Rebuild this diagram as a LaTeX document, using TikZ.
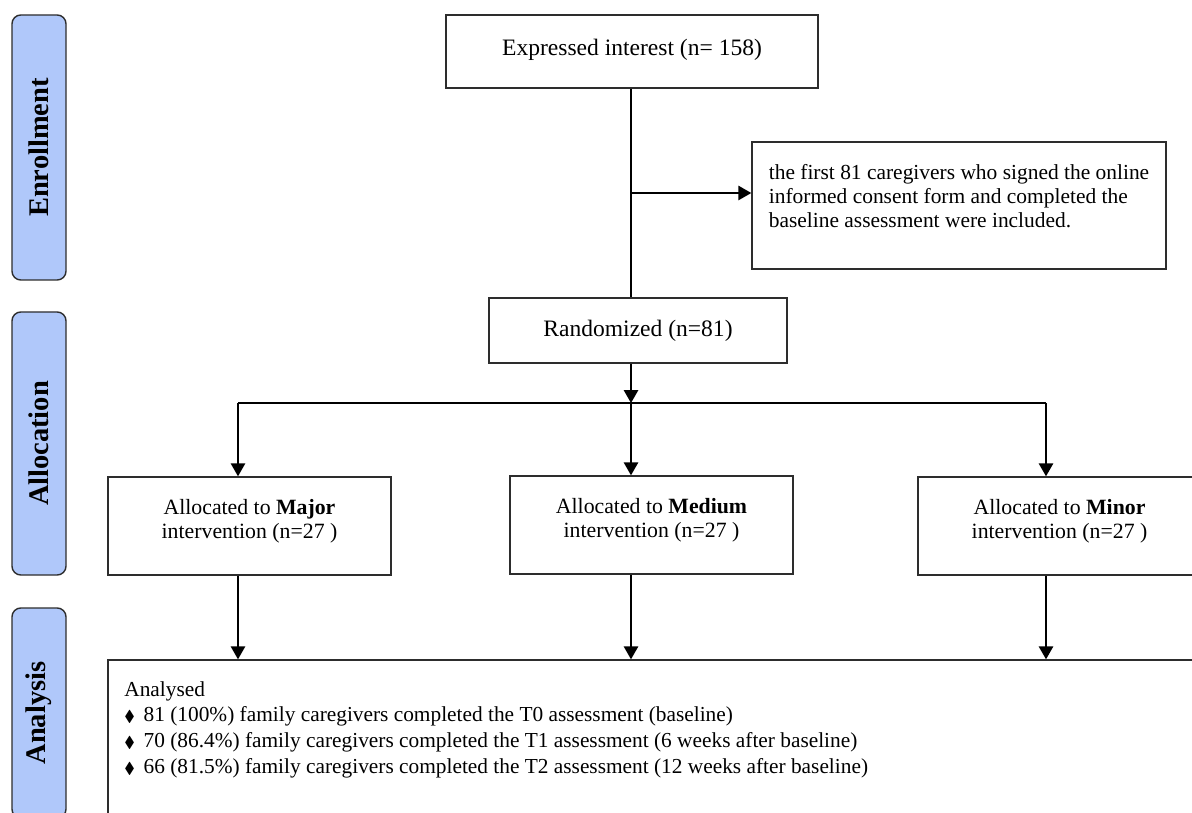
\documentclass[tikz,border=0pt]{standalone}
\usepackage{amssymb}
\usepackage{fontspec}
\setmainfont{Liberation Serif}
\usetikzlibrary{arrows.meta}

\definecolor{phasefill}{RGB}{176,200,250}
\definecolor{boxline}{RGB}{45,45,45}

\begin{document}
\begin{tikzpicture}[x=0.02cm, y=-0.02cm,
    font=\fontsize{13.4}{13.8}\selectfont,
    box/.style={draw=boxline, line width=0.8pt, inner sep=0pt, align=center},
    groupbox/.style={box, minimum width=283*0.02cm, minimum height=98*0.02cm,
      font=\fontsize{12.4}{13.8}\selectfont},
    phase/.style={draw=boxline, fill=phasefill, line width=0.8pt, rounded corners=5pt,
      rotate=90, minimum height=54*0.02cm, font=\fontsize{16.2}{18}\selectfont\bfseries},
    arr/.style={draw=black, line width=0.8pt, -{Triangle[width=2.9mm,length=2.6mm]}}]
  \useasboundingbox (0,0) rectangle (1192,813);

  % phases on the left
  \node[phase, minimum width=265*0.02cm] (enrol) at (39,147.5) {Enrollment};
  \node[phase, minimum width=263*0.02cm] (alloc) at (39,443.5) {Allocation};
  \node[phase, minimum width=210*0.02cm] (anal) at (39,713) {Analysis};

  % boxes
  \node[box, minimum width=372*0.02cm, minimum height=73*0.02cm] (interest) at (632,51.5)
    {Expressed interest (n= 158)\\[-8.8pt]};
  \node[box, minimum width=414*0.02cm, minimum height=127*0.02cm, align=left,
    font=\fontsize{12.2}{13.8}\selectfont] (consent) at (959,205.5)
    {the first 81 caregivers who signed the online\\
     informed consent form and completed the\\
     baseline assessment were included.\\[-3pt]};
  \node[box, minimum width=298*0.02cm, minimum height=65*0.02cm] (rand) at (638,330.5)
    {Randomized (n=81)};
  \node[groupbox] (major) at (249.5,526)
    {Allocated to \textbf{Major}\\ intervention (n=27 )\\[-5.8pt]};
  \node[groupbox] (medium) at (651.5,525)
    {Allocated to \textbf{Medium}\\ intervention (n=27 )\\[-5.8pt]};
  \node[groupbox] (minor) at (1059.5,526)
    {Allocated to \textbf{Minor}\\ intervention (n=27 )\\[-5.8pt]};
  \node[box, minimum width=1092*0.02cm, minimum height=170*0.02cm] (analysed) at (654,745) {};
  \node[anchor=north west, align=left, inner sep=0pt, font=\fontsize{12.15}{14.7}\selectfont]
    (analysedtxt) at (124,681)
    {Analysed\\
     {\small$\blacklozenge$}\hspace{5pt}81 (100\%) family caregivers completed the T0 assessment (baseline)\\
     {\small$\blacklozenge$}\hspace{5pt}70 (86.4\%) family caregivers completed the T1 assessment (6 weeks after baseline)\\
     {\small$\blacklozenge$}\hspace{5pt}66 (81.5\%) family caregivers completed the T2 assessment (12 weeks after baseline)};

  % connectors
  \coordinate (tap) at (631,193);
  \coordinate (split) at (631,403);
  \coordinate (lft) at (238,403);
  \coordinate (rgt) at (1046,403);
  \draw[line width=0.8pt] (interest.south -| split) -- (split |- rand.north);
  \draw[arr] (tap) -- (tap -| consent.west);
  \draw[arr] (split |- rand.south) -- (split);
  \draw[line width=0.8pt] (lft) -- (rgt);
  \draw[arr] (lft) -- (lft |- major.north);
  \draw[arr] (split) -- (split |- medium.north);
  \draw[arr] (rgt) -- (rgt |- minor.north);
  \draw[arr] (lft |- major.south) -- (lft |- analysed.north);
  \draw[arr] (split |- medium.south) -- (split |- analysed.north);
  \draw[arr] (rgt |- minor.south) -- (rgt |- analysed.north);
\end{tikzpicture}
\end{document}
